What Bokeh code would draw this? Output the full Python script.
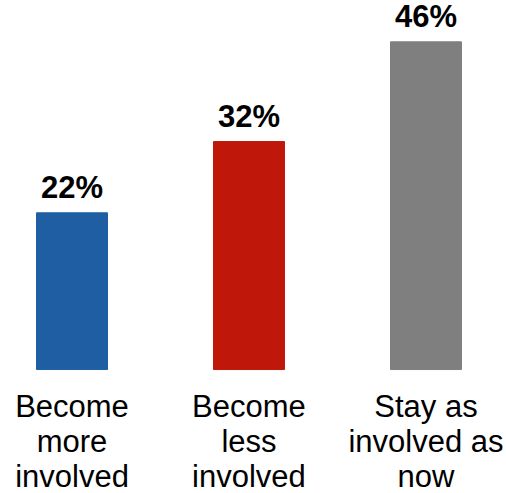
from bokeh.plotting import figure
from bokeh.models import ColumnDataSource, Range1d
from bokeh.core.properties import value
from bokeh.embed import file_html
from bokeh.resources import INLINE

categories = ["Become\nmore\ninvolved", "Become\nless\ninvolved", "Stay as\ninvolved as\nnow"]
values = [22, 32, 46]
labels = ["22%", "32%", "46%"]
colors = ["#1F5EA3", "#C0170B", "#7F7F7F"]

xs = list(range(len(values)))
src = ColumnDataSource(dict(x=xs, top=values, cat=categories, lab=labels, color=colors))

p = figure(width=506, height=493, output_backend="svg", toolbar_location=None,
           x_range=Range1d(-0.404, 2.455), y_range=Range1d(-17.4, 51.8),
           min_border=0, outline_line_color=None)
p.axis.visible = False
p.grid.visible = False
p.background_fill_color = "white"
p.border_fill_color = "white"

p.vbar(x="x", top="top", bottom=0, width=0.401, fill_color="color", line_color="color", source=src)

p.text(x="x", y="top", text="lab", source=src, text_align="center", text_baseline="alphabetic",
       y_offset=-25, text_font=value("Liberation Sans"), text_font_style="bold",
       text_font_size="31px", text_color="black")

p.text(x="x", y=0, text="cat", source=src, text_align="center", text_baseline="top",
       y_offset=19, text_font=value("Liberation Sans"), text_font_size="31px",
       text_line_height=1.0, text_color="black")

open("out.html", "w").write(file_html(p, INLINE))
